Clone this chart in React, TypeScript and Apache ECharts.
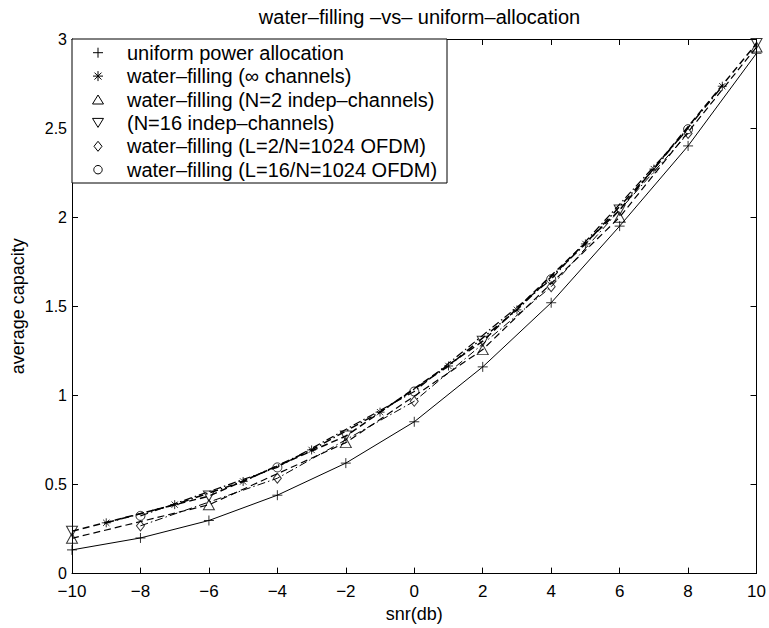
import React, { useEffect, useRef } from "react";
import * as echarts from "echarts";

// ---- data ----
const snrEven = [-10, -8, -6, -4, -2, 0, 2, 4, 6, 8, 10];
const uniformCap = [0.133, 0.2, 0.298, 0.44, 0.62, 0.852, 1.16, 1.52, 1.95, 2.4, 2.92];
const snrOdd = [-9, -7, -5, -3, -1, 1, 3, 5, 7, 9];
const wfInf = [0.285, 0.387, 0.517, 0.694, 0.906, 1.165, 1.48, 1.85, 2.27, 2.735];
const snrN = [-10, -6, -2, 2, 6, 10];
const wfN2 = [0.198, 0.386, 0.735, 1.257, 2.0, 2.955];
const wfN16 = [0.238, 0.435, 0.772, 1.304, 2.04, 2.975];
const snrL = [-8, -4, 0, 4, 8];
const wfL2 = [0.268, 0.535, 0.967, 1.61, 2.47];
const wfL16 = [0.324, 0.596, 1.022, 1.652, 2.494];

const legendLabels = [
  "uniform power allocation",
  "water–filling (∞ channels)",
  "water–filling (N=2 indep–channels)",
  "(N=16 indep–channels)",
  "water–filling (L=2/N=1024 OFDM)",
  "water–filling (L=16/N=1024 OFDM)",
];
const titleText = "water–filling –vs– uniform–allocation";
const xName = "snr(db)";
const yName = "average capacity";

const FONT = "'Liberation Sans', Arial, Helvetica, sans-serif";

const SYM_PLUS = "path://M0,5L10,5M5,0L5,10";
const SYM_STAR = "path://M0,5L10,5M5,0L5,10M1.5,1.5L8.5,8.5M1.5,8.5L8.5,1.5";
const SYM_TUP = "path://M5,0L10,9L0,9Z";
const SYM_TDN = "path://M0,0L10,0L5,9Z";
const SYM_DIA = "path://M4,0L8,5L4,10L0,5Z";

const zip = (xs: number[], ys: number[]) => xs.map((x, i) => [x, ys[i]]);

export default function App() {
  const ref = useRef<HTMLDivElement>(null);
  useEffect(() => {
    if (!ref.current) return;
    const chart = echarts.init(ref.current, null, { renderer: "svg" });

    const markerStyle = { color: "rgba(0,0,0,0)", borderColor: "#000", borderWidth: 1 };
    const lineSeries = (data: number[][], type: any, width = 1) => ({
      type: "line",
      data,
      symbol: "none",
      silent: true,
      lineStyle: { color: "#000", width, type },
      z: 2,
    });
    const scatter = (data: number[][], symbol: string, size: any) => ({
      type: "scatter",
      data,
      symbol,
      symbolSize: size,
      itemStyle: markerStyle,
      silent: true,
      z: 5,
    });

    // legend (drawn manually, MATLAB style)
    const lx = 72, ly = 39, lw = 375, lh = 144;
    const rowY = (i: number) => ly + 13.7 + i * 23.4;
    const mx = 98;
    const stroke = { stroke: "#000", lineWidth: 1, fill: "none" };
    const legendEls: any[] = [
      { type: "rect", shape: { x: lx, y: ly, width: lw, height: lh }, style: { fill: "#fff", stroke: "#000", lineWidth: 1 }, z: 10 },
    ];
    const y0 = rowY(0), y1 = rowY(1), y2 = rowY(2), y3 = rowY(3), y4 = rowY(4), y5 = rowY(5);
    legendEls.push(
      { type: "line", shape: { x1: mx - 5, y1: y0, x2: mx + 5, y2: y0 }, style: stroke, z: 11 },
      { type: "line", shape: { x1: mx, y1: y0 - 5, x2: mx, y2: y0 + 5 }, style: stroke, z: 11 },
      { type: "line", shape: { x1: mx - 5, y1: y1, x2: mx + 5, y2: y1 }, style: stroke, z: 11 },
      { type: "line", shape: { x1: mx, y1: y1 - 5, x2: mx, y2: y1 + 5 }, style: stroke, z: 11 },
      { type: "line", shape: { x1: mx - 3.5, y1: y1 - 3.5, x2: mx + 3.5, y2: y1 + 3.5 }, style: stroke, z: 11 },
      { type: "line", shape: { x1: mx - 3.5, y1: y1 + 3.5, x2: mx + 3.5, y2: y1 - 3.5 }, style: stroke, z: 11 },
      { type: "polygon", shape: { points: [[mx, y2 - 4.5], [mx + 5.5, y2 + 4.5], [mx - 5.5, y2 + 4.5]] }, style: stroke, z: 11 },
      { type: "polygon", shape: { points: [[mx - 5.5, y3 - 4.5], [mx + 5.5, y3 - 4.5], [mx, y3 + 4.5]] }, style: stroke, z: 11 },
      { type: "polygon", shape: { points: [[mx, y4 - 5], [mx + 4, y4], [mx, y4 + 5], [mx - 4, y4]] }, style: stroke, z: 11 },
      { type: "circle", shape: { cx: mx, cy: y5, r: 4.2 }, style: stroke, z: 11 }
    );
    legendLabels.forEach((t, i) => {
      legendEls.push({
        type: "text",
        x: 127,
        y: rowY(i),
        style: { text: t, font: `20px ${FONT}`, fill: "#000", textVerticalAlign: "middle", textAlign: "left" },
        z: 11,
      });
    });

    const axisCommon = {
      type: "value",
      axisLine: { show: true, onZero: false, lineStyle: { color: "#000", width: 1 } },
      axisTick: { show: true, inside: true, length: 6, lineStyle: { color: "#000" } },
      splitLine: { show: false },
    };
    const fmtX = (v: number) => (v < 0 ? "−" + Math.abs(v) : String(v));

    chart.setOption({
      animation: false,
      backgroundColor: "#fff",
      title: {
        text: titleText,
        left: 414.5,
        textAlign: "center",
        top: 2,
        textStyle: { fontFamily: FONT, fontSize: 20, fontWeight: "normal", color: "#000" },
      },
      grid: { left: 72, right: 12, top: 39, bottom: 49, containLabel: false },
      xAxis: [
        {
          ...axisCommon,
          position: "bottom",
          min: -10,
          max: 10,
          interval: 2,
          name: xName,
          nameLocation: "middle",
          nameGap: 27,
          nameTextStyle: { fontFamily: FONT, fontSize: 18, color: "#000" },
          axisLabel: { fontFamily: FONT, fontSize: 17, lineHeight: 16, color: "#000", margin: 10, formatter: fmtX },
        },
        {
          ...axisCommon,
          position: "top",
          min: -10,
          max: 10,
          interval: 2,
          axisLabel: { show: false },
        },
      ],
      yAxis: [
        {
          ...axisCommon,
          position: "left",
          min: 0,
          max: 3,
          interval: 0.5,
          name: yName,
          nameLocation: "middle",
          nameGap: 45,
          nameTextStyle: { fontFamily: FONT, fontSize: 18, color: "#000" },
          axisLabel: { fontFamily: FONT, fontSize: 16, lineHeight: 14, color: "#000", margin: 5, padding: [0, 0, 3, 0] },
        },
        {
          ...axisCommon,
          position: "right",
          min: 0,
          max: 3,
          interval: 0.5,
          axisLabel: { show: false },
        },
      ],
      series: [
        lineSeries(zip(snrEven, uniformCap), "solid", 1),
        lineSeries(zip(snrOdd, wfInf), [8, 3, 1.5, 3], 1.5),
        lineSeries(zip(snrN, wfN16), [7, 4], 1.5),
        lineSeries(zip(snrL, wfL16), [8, 3, 1.5, 3], 1.2),
        lineSeries(zip(snrN, wfN2), [7, 4], 1.2),
        lineSeries(zip(snrL, wfL2), [8, 3, 1.5, 3], 1),
        scatter(zip(snrEven, uniformCap), SYM_PLUS, [10, 10]),
        scatter(zip(snrOdd, wfInf), SYM_STAR, [9, 9]),
        scatter(zip(snrN, wfN2), SYM_TUP, [11, 10]),
        scatter(zip(snrN, wfN16), SYM_TDN, [11, 10]),
        scatter(zip(snrL, wfL2), SYM_DIA, [8, 10]),
        scatter(zip(snrL, wfL16), "circle", [9, 9]),
      ],
      graphic: legendEls,
    });
    return () => chart.dispose();
  }, []);
  return (
    <div
      ref={ref}
      style={{ position: "fixed", left: 0, top: 0, width: 769, height: 628, background: "#fff" }}
    />
  );
}
